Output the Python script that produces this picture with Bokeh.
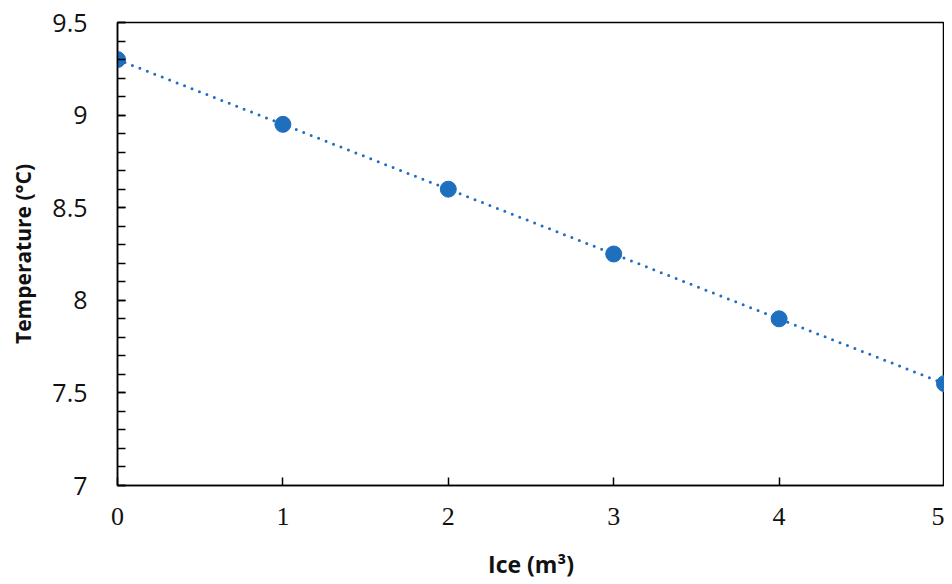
from bokeh.plotting import figure
from bokeh.models import Range1d, FixedTicker, ColumnDataSource
from bokeh.embed import file_html
from bokeh.resources import INLINE

ice = [0, 1, 2, 3, 4, 5]
temperature = [9.3, 8.95, 8.6, 8.25, 7.9, 7.55]
x_ticks = [0, 1, 2, 3, 4, 5]
y_ticks = [7, 7.5, 8, 8.5, 9, 9.5]
y_minor = [round(7 + 0.1 * i, 1) for i in range(26)]

src = ColumnDataSource(dict(x=ice, y=temperature))

p = figure(width=944, height=584, output_backend="svg", toolbar_location=None,
           x_range=Range1d(0, 5), y_range=Range1d(7, 9.5),
           min_border_left=117, min_border_right=0, min_border_top=22, min_border_bottom=99)
p.grid.visible = False
p.outline_line_color = "black"
p.outline_line_width = 1.5
p.background_fill_color = "white"
p.border_fill_color = "white"

blue = "#1F6FBF"
p.line("x", "y", source=src, line_color=blue, line_width=3, line_dash="0 8", line_cap="round")
p.scatter("x", "y", source=src, size=16, fill_color=blue, line_color=blue)

xa = p.xaxis[0]
xa.ticker = FixedTicker(ticks=x_ticks, minor_ticks=[])
xa.major_tick_in = 8
xa.major_tick_out = 0
xa.major_tick_line_color = "black"
xa.major_tick_line_width = 1.5
xa.axis_line_color = "black"
xa.axis_line_width = 1.5
xa.major_label_text_font = "Liberation Serif"
xa.major_label_text_font_size = "26px"
xa.major_label_text_color = "#111111"
xa.major_label_standoff = 22
xa.axis_label = "Ice (m³)"
xa.axis_label_text_font = "Open Sans"
xa.axis_label_text_font_style = "bold"
xa.axis_label_text_font_size = "23px"
xa.axis_label_text_color = "#111111"
xa.axis_label_standoff = 20

ya = p.yaxis[0]
ya.ticker = FixedTicker(ticks=y_ticks, minor_ticks=y_minor)
ya.major_tick_in = 8
ya.major_tick_out = 0
ya.minor_tick_in = 8
ya.minor_tick_out = 0
ya.major_tick_line_color = "black"
ya.minor_tick_line_color = "black"
ya.major_tick_line_width = 1.5
ya.minor_tick_line_width = 1.5
ya.axis_line_color = "black"
ya.axis_line_width = 1.5
ya.major_label_text_font = "Open Sans"
ya.major_label_text_font_size = "25px"
ya.major_label_text_color = "#111111"
ya.major_label_standoff = 30
ya.axis_label = "Temperature (°C)"
ya.axis_label_text_font = "Open Sans"
ya.axis_label_text_font_style = "bold"
ya.axis_label_text_font_size = "21px"
ya.axis_label_text_color = "#111111"
ya.axis_label_standoff = 12

open("out.html", "w").write(file_html(p, INLINE))
